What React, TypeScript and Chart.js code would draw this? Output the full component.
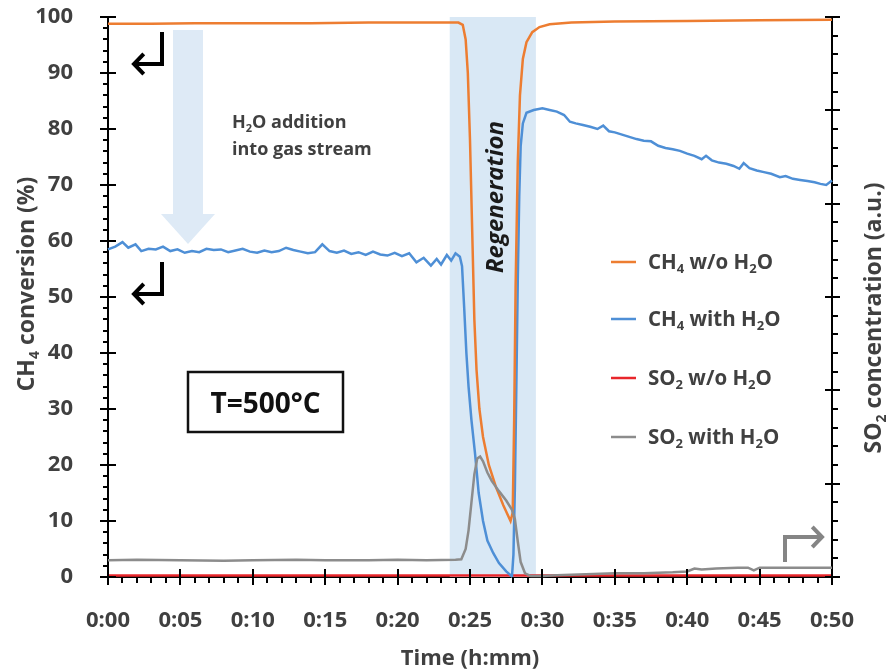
import React, { useEffect, useRef } from 'react';
import { Chart, registerables } from 'chart.js';

Chart.register(...registerables);

// ---------------- data ----------------
const timeTickStep = 5; // minutes
const timeRange = [0, 50];
const conversionRange = [0, 100];
const so2Range = [0, 6];
const regenerationWindow = [23.6, 29.55];

const seriesLabels = ['CH_4 w/o H_2O', 'CH_4 with H_2O', 'SO_2 w/o H_2O', 'SO_2 with H_2O'];
const seriesColors = ['#ED7D31', '#4E8FD6', '#E8262B', '#8C8C8C'];

// CH4 conversion (%) without water  [time min, value]
const ch4WithoutH2O: [number, number][] = [
  [0, 98.8], [3, 98.8], [6, 98.9], [10, 98.9], [14, 98.9], [18, 99], [22, 99], [24.2, 99],
  [24.5, 98.6], [24.7, 96], [24.85, 90], [25.0, 78], [25.15, 62], [25.3, 46], [25.45, 37],
  [25.65, 30], [25.9, 25], [26.3, 20], [26.8, 16], [27.3, 12.8], [27.8, 10], [27.95, 11.5],
  [28.05, 28], [28.15, 52], [28.3, 74], [28.45, 86], [28.65, 92.5], [28.9, 95.5], [29.3, 97.3],
  [29.8, 98.2], [30.5, 98.7], [32, 99], [35, 99.2], [40, 99.3], [45, 99.4], [50, 99.5],
];

// CH4 conversion (%) with water
const ch4WithH2O: [number, number][] = [
  [0, 58.5], [0.5, 59], [1.0, 59.8], [1.4, 58.8], [1.9, 59.4], [2.3, 58.2], [2.8, 58.6], [3.3, 58.5],
  [3.8, 59], [4.3, 58.2], [4.8, 58.5], [5.3, 57.9], [5.8, 58.2], [6.3, 58], [6.8, 58.6], [7.3, 58.4],
  [7.8, 58.5], [8.3, 58], [8.8, 58.3], [9.3, 58.6], [9.8, 58.1], [10.3, 57.9], [10.8, 58.3], [11.3, 58],
  [11.8, 58.2], [12.3, 58.8], [12.8, 58.4], [13.3, 58.1], [13.8, 57.8], [14.3, 58], [14.8, 59.4],
  [15.3, 58.2], [15.8, 57.9], [16.3, 58.3], [16.8, 57.7], [17.3, 58], [17.8, 57.5], [18.3, 58.1],
  [18.8, 57.6], [19.3, 57.4], [19.8, 57.9], [20.3, 57.3], [20.8, 57.8], [21.3, 56.2], [21.8, 57],
  [22.3, 55.6], [22.7, 56.8], [23.0, 55.8], [23.4, 57.5], [23.7, 56.5], [24.0, 57.8], [24.3, 57.2],
  [24.45, 55.5], [24.6, 48], [24.75, 40], [24.9, 34], [25.1, 28], [25.35, 22], [25.6, 15],
  [25.9, 10], [26.2, 6.5], [26.6, 4.3], [27.0, 2.5], [27.5, 1], [27.9, 0.1], [28.0, 4], [28.1, 16],
  [28.2, 34], [28.3, 53], [28.4, 68], [28.5, 77], [28.65, 81], [28.9, 82.9], [29.4, 83.4],
  [30.0, 83.7], [30.5, 83.4], [31.0, 83.1], [31.5, 82.5], [31.9, 81.3], [32.3, 81.0], [32.8, 80.7],
  [33.3, 80.4], [33.8, 80.0], [34.2, 80.6], [34.6, 79.6], [35.0, 79.4], [35.5, 79.0], [36.0, 78.6],
  [36.5, 78.2], [37.0, 77.9], [37.5, 77.8], [38.0, 77.0], [38.5, 76.6], [39.0, 76.4], [39.5, 76.1],
  [40.0, 75.6], [40.5, 75.2], [41.0, 74.6], [41.3, 75.2], [41.7, 74.4], [42.2, 74.0], [42.7, 73.8],
  [43.2, 73.4], [43.6, 72.9], [43.9, 73.9], [44.3, 73.0], [44.8, 72.6], [45.3, 72.3], [45.8, 72.0],
  [46.4, 71.4], [46.8, 71.6], [47.3, 71.1], [47.8, 70.9], [48.3, 70.7], [48.8, 70.5], [49.2, 70.2],
  [49.6, 70.0], [50, 70.8],
];

// SO2 concentration (a.u.) without water
const so2WithoutH2O: [number, number][] = [
  [0, 0.015], [5, 0.015], [10, 0.015], [15, 0.015], [20, 0.015], [25, 0.015], [30, 0.015],
  [35, 0.015], [40, 0.015], [45, 0.015], [50, 0.015],
];

// SO2 concentration (a.u.) with water
const so2WithH2O: [number, number][] = [
  [0, 0.18], [2, 0.185], [5, 0.18], [8, 0.175], [10, 0.18], [13, 0.185], [15, 0.18], [18, 0.18],
  [20, 0.185], [22, 0.18], [24, 0.185], [24.4, 0.19], [24.7, 0.3], [24.9, 0.5], [25.1, 0.8],
  [25.3, 1.1], [25.5, 1.27], [25.7, 1.29], [25.9, 1.24], [26.2, 1.12], [26.5, 1.03], [27.0, 0.92],
  [27.5, 0.82], [27.9, 0.72], [28.1, 0.62], [28.3, 0.38], [28.5, 0.16], [28.8, 0.04], [29.2, 0.01],
  [30, 0.01], [31, 0.02], [33, 0.03], [35, 0.04], [37, 0.04], [39, 0.05], [40, 0.06], [40.5, 0.09],
  [41, 0.08], [42, 0.09], [43.5, 0.1], [44.2, 0.1], [44.6, 0.07], [45, 0.1], [47, 0.1], [50, 0.1],
];

// ---------------- styling helpers ----------------
const FONT = '"Open Sans", "DejaVu Sans", sans-serif';
const TEXT = '#404040';

type Seg = [string, boolean];
function parseRich(s: string): Seg[] {
  const out: Seg[] = [];
  const re = /_(\d)/g;
  let last = 0;
  let m: RegExpExecArray | null;
  while ((m = re.exec(s))) {
    if (m.index > last) out.push([s.slice(last, m.index), false]);
    out.push([m[1], true]);
    last = m.index + m[0].length;
  }
  if (last < s.length) out.push([s.slice(last), false]);
  return out;
}

function fontStr(size: number, italic = false) {
  return `${italic ? 'italic ' : ''}bold ${size}px ${FONT}`;
}

function drawRich(
  ctx: CanvasRenderingContext2D, text: string, x: number, cy: number, size: number,
  align: 'left' | 'center', color: string, italic = false,
) {
  const segs = parseRich(text);
  const subSize = Math.round(size * 0.62);
  let total = 0;
  const widths: number[] = [];
  for (const [t, sub] of segs) {
    ctx.font = fontStr(sub ? subSize : size, italic);
    const w = ctx.measureText(t).width;
    widths.push(w);
    total += w;
  }
  let cx = align === 'center' ? x - total / 2 : x;
  const base = cy + size * 0.36;
  ctx.fillStyle = color;
  ctx.textAlign = 'left';
  ctx.textBaseline = 'alphabetic';
  segs.forEach(([t, sub], i) => {
    ctx.font = fontStr(sub ? subSize : size, italic);
    ctx.fillText(t, cx, sub ? base + size * 0.2 : base);
    cx += widths[i];
  });
}

function drawRotated(
  ctx: CanvasRenderingContext2D, text: string, cx: number, cy: number, size: number,
  color: string, italic = false,
) {
  ctx.save();
  ctx.translate(cx, cy);
  ctx.rotate(-Math.PI / 2);
  drawRich(ctx, text, 0, 0, size, 'center', color, italic);
  ctx.restore();
}

function line(ctx: CanvasRenderingContext2D, x1: number, y1: number, x2: number, y2: number) {
  ctx.beginPath();
  ctx.moveTo(x1, y1);
  ctx.lineTo(x2, y2);
  ctx.stroke();
}

function bentArrow(
  ctx: CanvasRenderingContext2D, pts: [number, number][], color: string, head: number,
) {
  ctx.save();
  ctx.strokeStyle = color;
  ctx.lineWidth = 4;
  ctx.lineCap = 'butt';
  ctx.lineJoin = 'miter';
  ctx.beginPath();
  ctx.moveTo(pts[0][0], pts[0][1]);
  for (let i = 1; i < pts.length; i++) ctx.lineTo(pts[i][0], pts[i][1]);
  ctx.stroke();
  const [tx, ty] = pts[pts.length - 1];
  const [px, py] = pts[pts.length - 2];
  const ang = Math.atan2(ty - py, tx - px);
  ctx.beginPath();
  ctx.moveTo(tx - head * Math.cos(ang - 0.8), ty - head * Math.sin(ang - 0.8));
  ctx.lineTo(tx, ty);
  ctx.lineTo(tx - head * Math.cos(ang + 0.8), ty - head * Math.sin(ang + 0.8));
  ctx.stroke();
  ctx.restore();
}

const overlayPlugin = {
  id: 'overlay',
  beforeDatasetsDraw(chart: any) {
    const { ctx, chartArea: a, scales } = chart;
    const xs = scales.x;
    ctx.save();
    // regeneration band
    const x0 = xs.getPixelForValue(regenerationWindow[0]);
    const x1 = xs.getPixelForValue(regenerationWindow[1]);
    ctx.fillStyle = '#D9E8F5';
    ctx.fillRect(x0, a.top, x1 - x0, a.bottom - a.top);
    // big light-blue arrow (H2O addition)
    ctx.fillStyle = '#DEEAF6';
    ctx.fillRect(173, 30, 30, 185);
    ctx.beginPath();
    ctx.moveTo(161, 214);
    ctx.lineTo(215, 214);
    ctx.lineTo(188, 244);
    ctx.closePath();
    ctx.fill();
    ctx.restore();
  },
  afterDatasetsDraw(chart: any) {
    const { ctx, chartArea: a, scales } = chart;
    const xs = scales.x, ys = scales.y, y2 = scales.y2;
    ctx.save();
    ctx.strokeStyle = '#000';
    ctx.lineWidth = 2;
    // left axis ticks
    for (let v = conversionRange[0]; v <= conversionRange[1]; v += 2) {
      const p = Math.round(ys.getPixelForValue(v));
      if (v % 10 === 0) line(ctx, a.left - 8, p, a.left + 8, p);
      else line(ctx, a.left - 5, p, a.left, p);
    }
    // bottom axis ticks
    for (let t = timeRange[0]; t <= timeRange[1]; t += 1) {
      const p = Math.round(xs.getPixelForValue(t));
      if (t % timeTickStep === 0) line(ctx, p, a.bottom - 8, p, a.bottom + 8);
      else line(ctx, p, a.bottom, p, a.bottom + 6);
    }
    // right axis ticks
    for (let i = 0; i <= (so2Range[1] - so2Range[0]) * 5; i++) {
      const v = so2Range[0] + i * 0.2;
      const p = Math.round(y2.getPixelForValue(v));
      if (i % 5 === 0) line(ctx, a.right - 7, p, a.right + 8, p);
      else line(ctx, a.right, p, a.right + 6, p);
    }

    // black bent arrows
    bentArrow(ctx, [[162, 32], [162, 64], [134, 64]], '#000', 14);
    bentArrow(ctx, [[162, 262], [162, 294], [134, 294]], '#000', 14);
    // gray bent arrow
    bentArrow(ctx, [[785, 562], [785, 537], [822, 537]], '#858585', 14);

    // annotation texts
    drawRich(ctx, 'H_2O addition', 232, 122, 18, 'left', TEXT);
    drawRich(ctx, 'into gas stream', 232, 149, 18, 'left', TEXT);
    drawRotated(ctx, 'Regeneration', 494, 197, 24, '#1a1a1a', true);

    // T box
    ctx.fillStyle = '#fff';
    ctx.fillRect(188, 372, 155, 60);
    ctx.strokeStyle = '#111';
    ctx.lineWidth = 2.5;
    ctx.strokeRect(188, 372, 155, 60);
    drawRich(ctx, 'T=500°C', 265.5, 403, 28, 'center', '#111');

    // legend
    const rows = [262, 319, 378, 437];
    seriesLabels.forEach((lab, i) => {
      ctx.strokeStyle = seriesColors[i];
      ctx.lineWidth = 2.5;
      line(ctx, 611, rows[i], 636, rows[i]);
      drawRich(ctx, lab, 648, rows[i], 20.5, 'left', TEXT);
    });

    // axis titles
    drawRich(ctx, 'Time (h:mm)', (a.left + a.right) / 2, 657, 22, 'center', TEXT);
    drawRotated(ctx, 'CH_4 conversion (%)', 26, 284, 23, TEXT);
    drawRotated(ctx, 'SO_2 concentration (a.u.)', 873, 318, 23, TEXT);
    ctx.restore();
  },
};

function toPoints(arr: [number, number][]) {
  return arr.map(([x, y]) => ({ x, y }));
}

function noPad(s: any) {
  s.paddingTop = 0;
  s.paddingBottom = 0;
  s.paddingLeft = 0;
  s.paddingRight = 0;
}

export default function App() {
  const ref = useRef<HTMLCanvasElement | null>(null);
  useEffect(() => {
    document.body.style.margin = '0';
    const canvas = ref.current;
    if (!canvas) return;
    const lineDs = (label: string, data: [number, number][], color: string, axis: string) => ({
      label,
      data: toPoints(data),
      borderColor: color,
      backgroundColor: color,
      borderWidth: 2.5,
      pointRadius: 0,
      tension: 0,
      yAxisID: axis,
      clip: false as any,
    });
    const chart = new Chart(canvas, {
      type: 'line',
      data: {
        datasets: [
          lineDs(seriesLabels[3], so2WithH2O, seriesColors[3], 'y2'),
          lineDs(seriesLabels[0], ch4WithoutH2O, seriesColors[0], 'y'),
          lineDs(seriesLabels[1], ch4WithH2O, seriesColors[1], 'y'),
          lineDs(seriesLabels[2], so2WithoutH2O, seriesColors[2], 'y2'),
        ],
      },
      options: {
        responsive: false,
        animation: false,
        devicePixelRatio: 1,
        layout: { padding: { top: 17, left: 0, right: 0, bottom: 0 } },
        plugins: { legend: { display: false }, tooltip: { enabled: false }, title: { display: false } },
        scales: {
          x: {
            type: 'linear',
            min: timeRange[0],
            max: timeRange[1],
            grid: { display: false },
            border: { display: true, color: '#000', width: 2 },
            ticks: {
              stepSize: timeTickStep,
              padding: 23,
              color: TEXT,
              font: { family: FONT, size: 22, weight: 'bold' },
              maxRotation: 0,
              callback: (v: any) => `0:${String(v).padStart(2, '0')}`,
            },
            afterFit: (s: any) => { s.height = 95; noPad(s); },
          },
          y: {
            position: 'left',
            min: conversionRange[0],
            max: conversionRange[1],
            grid: { display: false },
            border: { display: true, color: '#000', width: 2 },
            ticks: {
              stepSize: 10,
              padding: 27,
              color: TEXT,
              font: { family: FONT, size: 22, weight: 'bold' },
            },
            afterFit: (s: any) => { s.width = 108; noPad(s); },
          },
          y2: {
            position: 'right',
            min: so2Range[0],
            max: so2Range[1],
            grid: { display: false },
            border: { display: true, color: '#000', width: 2 },
            ticks: { display: false, stepSize: 1 },
            afterFit: (s: any) => { s.width = 57; noPad(s); },
          },
        },
      } as any,
      plugins: [overlayPlugin],
    });
    return () => chart.destroy();
  }, []);
  return <canvas ref={ref} width={889} height={672} style={{ display: 'block' }} />;
}
